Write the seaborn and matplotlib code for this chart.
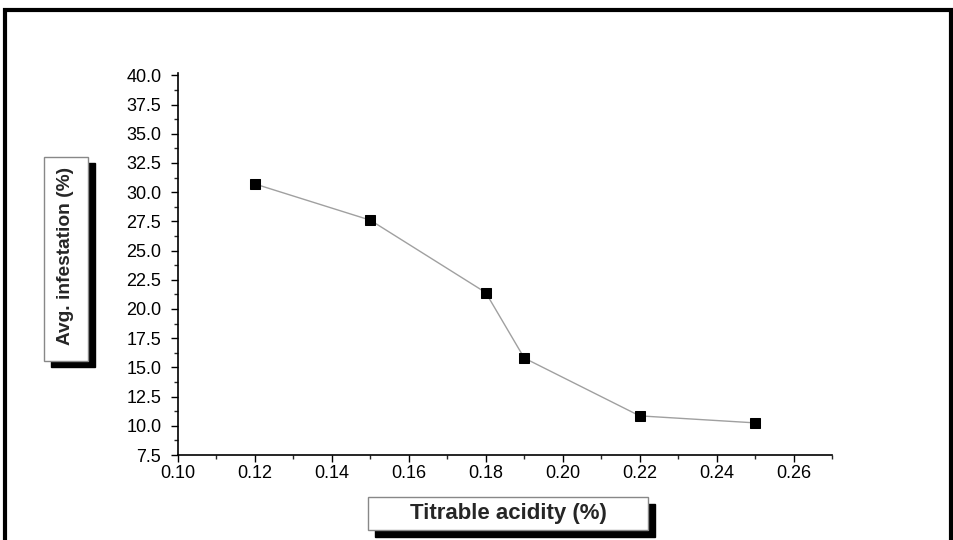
import matplotlib
matplotlib.use("Agg")
import matplotlib.pyplot as plt
import seaborn as sns
import pandas as pd
from matplotlib.patches import Rectangle
from matplotlib.ticker import MultipleLocator

# data
acidity = [0.12, 0.15, 0.18, 0.19, 0.22, 0.25]
infestation = [30.7, 27.6, 21.4, 15.8, 10.85, 10.25]

df = pd.DataFrame({"acidity": acidity, "infestation": infestation})

sns.set_style("ticks")
plt.rcParams["font.family"] = ["Liberation Sans", "DejaVu Sans"]

W, H = 954, 540
fig = plt.figure(figsize=(W / 100, H / 100), dpi=100)
ax = fig.add_axes([178 / W, 1 - 455 / H, (832 - 178) / W, (455 - 73) / H])

sns.lineplot(data=df, x="acidity", y="infestation", ax=ax, color="#a0a0a0",
             linewidth=1, marker="s", markersize=7, markerfacecolor="black",
             markeredgecolor="black")

ax.set_xlim(0.10, 0.27)
ax.set_ylim(7.5, 40.2)
ax.set_xticks([0.10, 0.12, 0.14, 0.16, 0.18, 0.20, 0.22, 0.24, 0.26])
ax.set_yticks([7.5 + 2.5 * i for i in range(14)])
ax.xaxis.set_minor_locator(MultipleLocator(0.01))
ax.yaxis.set_minor_locator(MultipleLocator(1.25))
ax.xaxis.set_major_formatter(plt.FormatStrFormatter("%.2f"))
ax.yaxis.set_major_formatter(plt.FormatStrFormatter("%.1f"))
ax.tick_params(which="major", direction="out", length=5, width=1, labelsize=13,
               colors="black")
ax.tick_params(axis="x", which="major", pad=2)
ax.tick_params(axis="y", which="major", pad=7)
ax.tick_params(which="minor", direction="out", length=3, width=1)
for s in ["top", "right"]:
    ax.spines[s].set_visible(False)
for s in ["left", "bottom"]:
    ax.spines[s].set_linewidth(1.2)
    ax.spines[s].set_color("black")
ax.set_xlabel("")
ax.set_ylabel("")


def px_rect(x0, y0, x1, y1, **kw):
    return Rectangle((x0 / W, 1 - y1 / H), (x1 - x0) / W, (y1 - y0) / H,
                     transform=fig.transFigure, **kw)


# outer frame
fig.patches.append(px_rect(5, 10, 951, 560, fill=False, edgecolor="black", linewidth=3))

# y label box with shadow
fig.patches.append(px_rect(51, 163, 95, 367, facecolor="black", edgecolor="black"))
fig.patches.append(px_rect(44, 157, 88, 361, facecolor="white", edgecolor="#888888", linewidth=1))
fig.text(66 / W, 1 - 256 / H, "Avg. infestation (%)", rotation=90, ha="center", va="center",
         fontsize=13.8, fontweight="bold")

# x label box with shadow
fig.patches.append(px_rect(375, 504, 655, 537, facecolor="black", edgecolor="black"))
fig.patches.append(px_rect(368, 497, 648, 530, facecolor="white", edgecolor="#888888", linewidth=1))
fig.text(508 / W, 1 - 513 / H, "Titrable acidity (%)", ha="center", va="center",
         fontsize=16, fontweight="bold")

fig.savefig("out.png", dpi=100)
